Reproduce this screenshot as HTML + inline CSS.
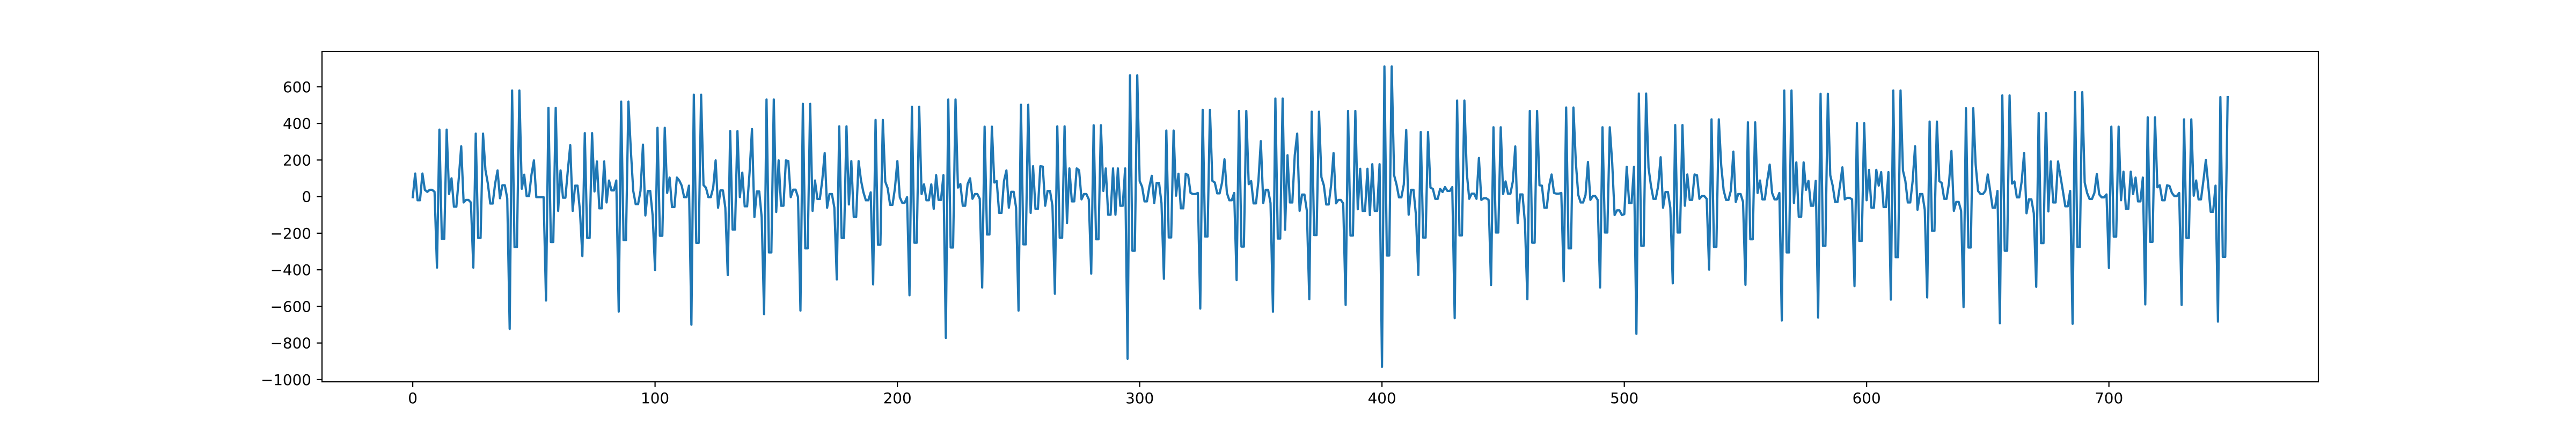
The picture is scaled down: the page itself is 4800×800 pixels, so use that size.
<!DOCTYPE html>
<html><head><meta charset="utf-8"><style>
html,body{margin:0;padding:0;background:#fff;}
svg{display:block;}
text{font-family:"DejaVu Sans","Liberation Sans",sans-serif;font-size:27.8px;fill:#000;}
</style></head><body>
<svg id="chart" width="4800" height="800" viewBox="0 0 4800 800" xmlns="http://www.w3.org/2000/svg">
<rect x="0" y="0" width="4800" height="800" fill="#fff"/>
</svg>
<script>
const values = [
-3,126,-20,-20,126, 37,26,37,37,26, -388,366,-231,-231,366, 14,100,-55,-55,100, 275,-32,-18,-18,-32,
-388,344,-226,-226,344, 146,71,-38,-38,71, 143,-9,62,62,-9, -723,580,-276,-276,580, 43,120,3,3,120,
198,-3,-3,-3,-3, -568,485,-248,-248,485, -78,143,-6,-6,143, 281,-78,60,60,-78, -325,347,-226,-226,347,
28,192,-64,-64,192, -32,88,34,34,88, -628,519,-238,-238,519, 255,31,-41,-41,31, 284,-103,31,31,-103,
-401,376,-214,-214,376, 20,104,-57,-57,104, 88,60,-3,-3,60, -700,557,-253,-253,557, 63,49,-3,-3,49,
198,-61,34,34,-61, -429,358,-180,-180,358, -3,131,-53,-53,131, 369,-112,28,28,-112, -643,531,-305,-305,531,
-84,198,-50,-50,198, 194,-3,38,38,-3, -623,507,-283,-283,507, -78,88,-13,-13,88, 238,-61,14,14,-61,
-453,384,-226,-226,384, -43,194,-111,-111,194, 88,23,-20,-20,23, -480,419,-263,-263,419, 82,46,-45,-45,46,
194,-3,-34,-34,-3, -539,491,-252,-252,491, 14,67,-20,-20,67, -67,117,-18,-18,117, -772,531,-278,-278,531,
49,69,-50,-50,69, 100,-12,14,14,-12, -497,382,-207,-207,382, 77,85,-89,-89,85, 143,-61,26,26,-61,
-623,502,-261,-261,502, -89,166,-67,-67,166, 164,-50,31,31,-50, -531,384,-225,-225,384, -145,154,-26,-26,154,
144,-15,14,14,-15, -421,390,-233,-233,390, 31,154,-99,-99,154, -99,154,-50,-50,154, -886,663,-296,-296,663,
85,54,-26,-26,54, 114,-35,75,75,-35, -449,361,-223,-223,361, 5,125,-64,-64,125, 117,20,14,14,20,
-612,474,-218,-218,474, 86,77,18,18,77, 204,20,-20,-20,20, -456,468,-273,-273,468, 68,85,-37,-37,85,
303,-35,37,37,-35, -629,536,-229,-229,536, -181,226,-32,-32,226, 344,-78,11,11,-78, -561,464,-210,-210,464,
106,62,-43,-43,62, 238,-37,-18,-18,-37, -592,468,-213,-213,468, -69,152,-78,-78,152, -101,177,-78,-78,177,
-930,711,-322,-322,711, 117,66,-4,-4,66, 364,-99,37,37,-99, -428,353,-224,-224,353, 49,42,-12,-12,42,
25,52,31,31,52, -664,525,-212,-212,525, 129,-12,16,16,-12, 211,-18,-9,-9,-18, -483,379,-196,-196,379,
14,83,16,16,83, 274,-145,12,12,-145, -561,468,-252,-252,468, 62,60,-61,-61,60, 121,20,16,16,20,
-462,487,-283,-283,487, 187,9,-32,-32,9, 189,-18,3,3,-18, -497,379,-196,-196,379, 187,-101,-75,-75,-101,
-96,163,-35,-35,163, -750,563,-269,-269,563, 158,60,-12,-12,60, 215,-61,25,25,-61, -474,391,-196,-196,391,
-50,121,-18,-18,121, 117,-12,3,3,-12, -399,422,-275,-275,422, 169,34,-18,-18,34, 246,-29,14,14,-29,
-482,406,-233,-233,406, 20,88,-15,-15,88, 175,20,-15,-15,20, -677,580,-305,-305,580, -35,187,-110,-110,187,
37,86,-50,-50,86, -661,562,-269,-269,562, 117,60,-29,-29,60, 160,-15,-7,-7,-15, -489,401,-242,-242,401,
-20,146,-61,-61,146, 60,134,-57,-57,134, -563,580,-331,-331,580, 143,85,-32,-32,85, 275,-72,14,14,-72,
-551,410,-187,-187,410, 85,74,-12,-12,74, 249,-78,-29,-29,-78, -604,483,-278,-278,483, 175,31,14,14,31,
121,31,-61,-61,31, -692,553,-296,-296,553, 71,83,-4,-4,83, 238,-91,-15,-15,-91, -493,456,-254,-254,456,
-81,192,-32,-32,192, 111,31,-53,-53,31, -695,571,-275,-275,571, 77,20,-13,-13,20, 123,12,-4,-4,12,
-390,382,-219,-219,382, -20,136,-67,-67,136, 14,104,-26,-26,104, -589,433,-247,-247,433, 51,62,-20,-20,62,
58,20,3,3,20, -592,422,-226,-226,422, 5,88,-15,-15,88, 200,60,-83,-83,60, -683,544,-329,-329,544
];
const xTicks = [0,100,200,300,400,500,600,700];
const yTicks = [-1000,-800,-600,-400,-200,0,200,400,600];

const NS = 'http://www.w3.org/2000/svg';
const svg = document.getElementById('chart');
const L = 600, R = 4320, T = 96, B = 712;
const n = values.length;
const xMin = -(n - 1) * 0.05, xMax = (n - 1) * 1.05;
const vMin = Math.min(...values), vMax = Math.max(...values);
const pad = (vMax - vMin) * 0.05;
const yMin = vMin - pad, yMax = vMax + pad;
function sx(v){ return L + (v - xMin) / (xMax - xMin) * (R - L); }
function sy(v){ return B - (v - yMin) / (yMax - yMin) * (B - T); }
function mk(tag, attrs){ const e = document.createElementNS(NS, tag); for (const k in attrs) e.setAttribute(k, attrs[k]); svg.appendChild(e); return e; }

let d = '';
values.forEach((v, i) => { d += (i ? 'L' : 'M') + sx(i).toFixed(2) + ',' + sy(v).toFixed(2); });
const line = mk('path', {d: d, fill: 'none', stroke: '#1f77b4', 'stroke-width': 4.17, 'stroke-linejoin': 'round', 'stroke-linecap': 'square'});



const frame = mk('rect', {x: L, y: T, width: R - L, height: B - T, fill: 'none', stroke: '#000', 'stroke-width': 2.2});



xTicks.forEach(t => {
  const x = sx(t);
  const tk = mk('line', {x1: x, x2: x, y1: B, y2: B + 9.7, stroke: '#000', 'stroke-width': 2.2});
  
  
  const lb = mk('text', {x: x, y: B + 40, 'text-anchor': 'middle'});
  lb.textContent = String(t);
  
  
});
yTicks.forEach(t => {
  const y = sy(t);
  const tk = mk('line', {x1: L - 9.7, x2: L, y1: y, y2: y, stroke: '#000', 'stroke-width': 2.2});
  
  
  const lb = mk('text', {x: L - 20, y: y + 10, 'text-anchor': 'end'});
  lb.textContent = t < 0 ? '\u2212' + Math.abs(t) : String(t);
  
  
});
</script>
</body></html>
